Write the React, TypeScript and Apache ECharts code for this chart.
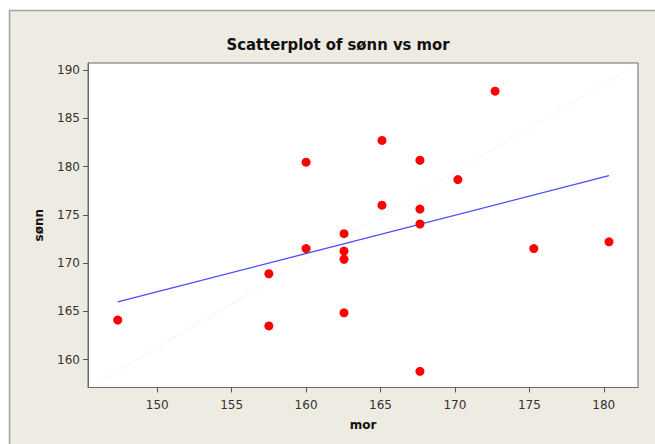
import React, { useEffect, useRef } from "react";
import * as echarts from "echarts";

const titleText = "Scatterplot of sønn vs mor";
const xName = "mor";
const yName = "sønn";

const morValues = [147.35, 157.5, 157.5, 160.0, 160.0, 162.55, 162.55, 162.55, 162.55, 165.1, 165.1, 167.65, 167.65, 167.65, 167.65, 170.2, 172.7, 175.3, 180.35];
const sonnValues = [164.1, 168.9, 163.5, 180.45, 171.5, 173.05, 171.25, 170.4, 164.85, 182.7, 176.0, 180.65, 175.6, 174.05, 158.8, 178.65, 187.8, 171.5, 172.2];

const fitLineX = [147.35, 180.35];
const fitLineY = [165.98, 179.06];

const faintLineX = [146.0, 182.05];
const faintLineY = [157.6, 190.4];

const xTicks = [150, 155, 160, 165, 170, 175, 180];
const yTicks = [160, 165, 170, 175, 180, 185, 190];

export default function App() {
  const ref = useRef<HTMLDivElement>(null);
  useEffect(() => {
    if (!ref.current) return;
    const chart = echarts.init(ref.current, undefined, { renderer: "svg" });
    const labelFont = { fontFamily: "DejaVu Sans", fontSize: 12, color: "#333" };
    chart.setOption({
      animation: false,
      backgroundColor: "#ffffff",
      title: {
        text: titleText,
        left: 333,
        top: 31,
        textAlign: "center",
        textStyle: { fontFamily: "DejaVu Sans Condensed", fontWeight: "bold", fontSize: 16.5, color: "#111" },
      },
      graphic: [
        {
          type: "rect",
          z: -100,
          silent: true,
          shape: { x: 9.5, y: 10.5, width: 700, height: 500 },
          style: { fill: "#eeebe2", stroke: "#a3a3a3", lineWidth: 1.5 },
        },
      ],
      grid: {
        left: 88,
        top: 63,
        right: 17,
        bottom: 56.5,
        show: true,
        backgroundColor: "#ffffff",
        borderColor: "#6a6a6a",
        borderWidth: 1,
      },
      xAxis: {
        type: "value",
        min: 145.35,
        max: 182.3,
        name: xName,
        nameLocation: "middle",
        nameGap: 31,
        nameTextStyle: { fontFamily: "DejaVu Sans", fontWeight: "bold", fontSize: 12, color: "#111" },
        axisLine: { show: true, lineStyle: { color: "#6a6a6a", width: 1 } },
        axisTick: { show: true, length: 5, lineStyle: { color: "#555" }, customValues: xTicks },
        axisLabel: { ...labelFont, margin: 11, customValues: xTicks },
        splitLine: { show: false },
      },
      yAxis: {
        type: "value",
        min: 157.12,
        max: 190.72,
        name: yName,
        nameLocation: "middle",
        nameGap: 43,
        nameTextStyle: { fontFamily: "DejaVu Sans", fontWeight: "bold", fontSize: 12, color: "#111" },
        axisLine: { show: true, lineStyle: { color: "#6a6a6a", width: 1 } },
        axisTick: { show: true, length: 5, lineStyle: { color: "#555" }, customValues: yTicks },
        axisLabel: { ...labelFont, margin: 8, customValues: yTicks },
        splitLine: { show: false },
      },
      series: [
        {
          type: "line",
          data: faintLineX.map((x, i) => [x, faintLineY[i]]),
          symbol: "none",
          lineStyle: { color: "#eaeaf2", width: 1, type: "dotted" },
          silent: true,
          z: 1,
        },
        {
          type: "line",
          data: fitLineX.map((x, i) => [x, fitLineY[i]]),
          symbol: "none",
          lineStyle: { color: "#4b4bff", width: 1.3 },
          silent: true,
          z: 2,
        },
        {
          type: "scatter",
          data: morValues.map((x, i) => [x, sonnValues[i]]),
          symbol: "circle",
          symbolSize: 9,
          itemStyle: { color: "#ff0000", opacity: 1 },
          z: 3,
        },
      ],
    });
    return () => chart.dispose();
  }, []);
  return (
    <div
      ref={ref}
      style={{ position: "fixed", left: 0, top: 0, width: 655, height: 444 }}
    />
  );
}
